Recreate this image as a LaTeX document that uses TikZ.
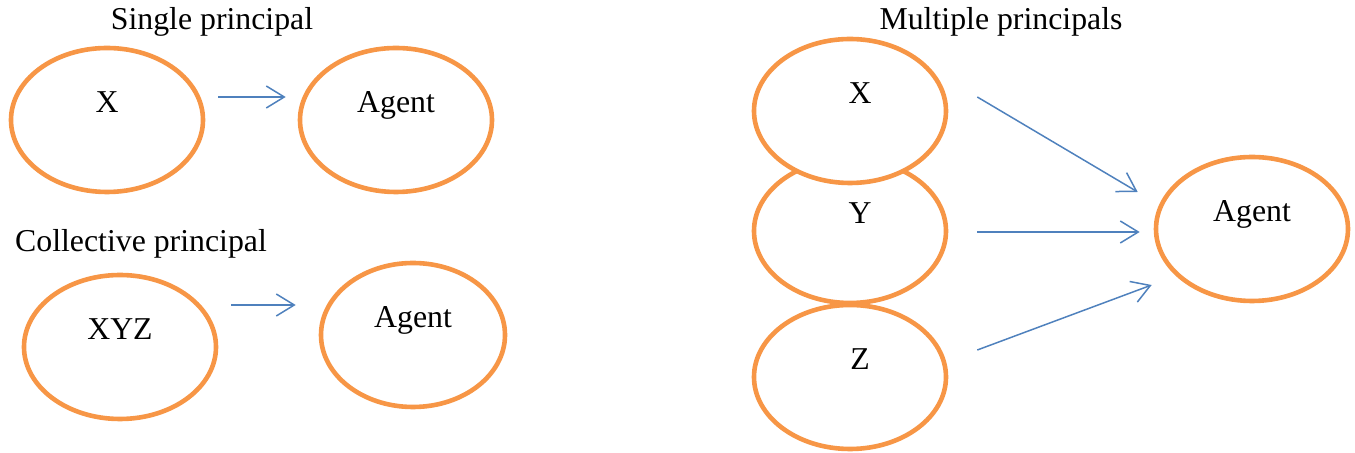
\documentclass[tikz,border=0pt]{standalone}
\usepackage{fontspec}
\setmainfont{Liberation Serif}
\usepackage{tikz}
\usetikzlibrary{shapes.geometric, arrows.meta}
\definecolor{OvalOrange}{HTML}{F79646}
\definecolor{LinkBlue}{HTML}{4F81BD}

\begin{document}
\begin{tikzpicture}[x=0.5pt, y=-0.5pt, >={Straight Barb[length=9pt,width=11pt]}, font=\fontsize{15.9}{19}\selectfont]
    \tikzstyle{oval} = [ellipse, draw=OvalOrange, fill=white, line width=2.3pt, minimum width=96pt, minimum height=72pt, text height=12pt, text depth=19.5pt]
    \tikzstyle{link} = [draw, ->, line width=0.75pt, LinkBlue]
    \tikzstyle{title} = [anchor=base, inner sep=0pt]
    \useasboundingbox (0,0) rectangle (1355,453);

    % single principal
    \node [title] (stitle) at (212,30) {Single principal};
    \node [oval] (sx) at (107,120) {X};
    \node [oval] (sa) at (396,120) {Agent};
    \path [link] ([shift={(13,-23)}]sx.east) -- ([shift={(-12,-23)}]sa.west);

    % collective principal
    \node [title] (ctitle) at (141,252) {Collective principal};
    \node [oval] (cx) at (120,347) {XYZ};
    \node [oval, minimum width=92pt] (ca) at (413,335) {Agent};
    \path [link] ([shift={(13,-42)}]cx.east) -- ([shift={(-23,-30)}]ca.west);

    % multiple principals
    \node [title] (mtitle) at (1001,30) {Multiple principals};
    \node [oval] (mz) at (850,377) {\hspace{10pt}Z};
    \node [oval] (my) at (850,231) {\hspace{10pt}Y};
    \node [oval] (mx) at (850,111) {\hspace{10pt}X};
    \node [oval] (ma) at (1252,229) {Agent};
    \path [link] ([shift={(29,-14)}]mx.east) -- ([shift={(-16,-37)}]ma.west);
    \path [link] ([shift={(29,1)}]my.east) -- ([shift={(-14,3)}]ma.west);
    \path [link] ([shift={(29,-27)}]mz.east) -- ([shift={(-2,56)}]ma.west);
\end{tikzpicture}
\end{document}
